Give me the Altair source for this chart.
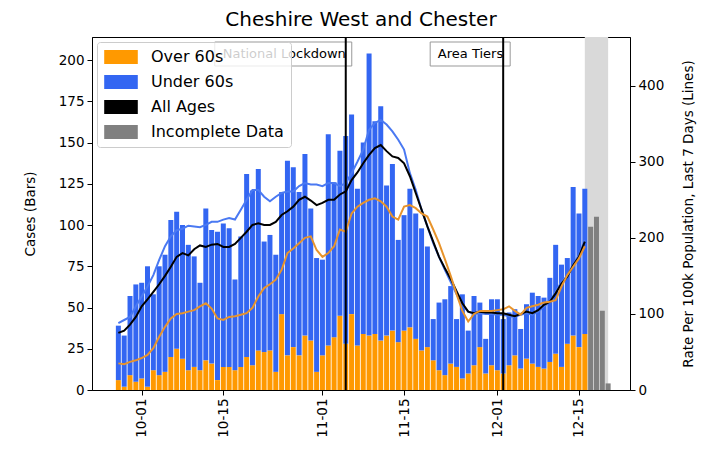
import altair as alt
import pandas as pd

# ---------------- data ----------------
day_dates = pd.date_range("2020-09-27", "2020-12-16", freq="D").strftime("%Y-%m-%d").tolist()

total_cases = [39, 33, 57, 64, 65, 75, 58, 75, 82, 103,
               108, 100, 88, 81, 65, 110, 97, 96, 101, 98,
               67, 93, 131, 121, 134, 90, 94, 82, 120, 139,
               135, 120, 143, 110, 80, 79, 155, 126, 145, 154,
               167, 122, 150, 204, 163, 172, 124, 137, 91, 106,
               122, 107, 98, 87, 43, 53, 55, 63, 43, 58,
               36, 57, 53, 31, 55, 55, 43, 47, 49, 37,
               52, 59, 57, 56, 68, 88, 76, 80, 123, 107,
               122]
over60_cases = [6, 2, 9, 5, 7, 2, 12, 9, 11, 20,
                25, 19, 12, 14, 12, 18, 16, 6, 14, 14,
                12, 14, 20, 15, 24, 23, 24, 11, 46, 21,
                26, 21, 33, 30, 11, 21, 27, 32, 45, 28,
                46, 27, 34, 33, 34, 30, 33, 36, 29, 36,
                38, 31, 24, 26, 18, 12, 9, 16, 14, 7,
                10, 15, 26, 10, 15, 12, 10, 15, 21, 13,
                19, 16, 14, 13, 17, 22, 14, 28, 33, 26,
                34]
incomplete_dates = ["2020-12-17", "2020-12-18", "2020-12-19", "2020-12-20"]
incomplete_cases = [99, 105, 48, 4]

rate_all = [75, 78, 86, 96, 110, 119, 129, 139, 150, 162,
            175, 180, 177, 185, 190, 188, 191, 192, 188, 188,
            192, 200, 208, 217, 219, 217, 217, 221, 230, 235,
            241, 250, 254, 249, 243, 246, 250, 250, 257, 261,
            276, 286, 298, 309, 318, 322, 314, 307, 305, 298,
            281, 259, 237, 215, 195, 175, 160, 146, 130, 114,
            103, 101, 103, 102, 102, 101, 101, 99, 97, 100,
            103, 101, 105, 112, 116, 127, 140, 149, 164, 175,
            195]
rate_under60 = [88, 92, 96, 110, 123, 136, 151, 171, 189, 202,
                210, 212, 216, 215, 214, 217, 221, 221, 224, 226,
                224, 237, 250, 263, 263, 254, 248, 254, 259, 261,
                261, 268, 272, 270, 270, 268, 272, 272, 268, 272,
                285, 300, 316, 342, 351, 355, 349, 340, 329, 316,
                285, 263, 237, 215, 193, 175, 158, 142, 126, 112,
                103, 100, 101, 100, 100, 99, 99, 97, 96, 99,
                101, 99, 103, 110, 116, 129, 142, 150, 165, 177,
                197]
rate_over60 = [35, 34, 37, 39, 42, 46, 55, 70, 83, 94,
               100, 101, 103, 105, 110, 114, 107, 94, 92, 96,
               97, 99, 101, 108, 123, 134, 139, 145, 158, 180,
               186, 193, 200, 202, 184, 175, 180, 189, 211, 208,
               232, 241, 246, 250, 252, 248, 241, 228, 224, 241,
               243, 239, 232, 228, 211, 193, 172, 150, 126, 104,
               90, 100, 104, 104, 104, 105, 106, 110, 104, 99,
               108, 110, 112, 115, 116, 118, 136, 151, 162, 173,
               189]

event_dates = ["2020-11-05", "2020-12-02"]
event_labels = ["National Lockdown", "Area Tiers"]
band_start = ["2020-12-16"]
band_end = ["2020-12-20"]

x_ticks = [(10, 1), (10, 15), (11, 1), (11, 15), (12, 1), (12, 15)]
left_ticks = [0, 25, 50, 75, 100, 125, 150, 175, 200]
right_ticks = [0, 100, 200, 300, 400]

legend_names = ["Over 60s", "Under 60s", "All Ages", "Incomplete Data"]
legend_colors = ["#FF9900", "#3366F2", "#000000", "#808080"]
line_names = ["Under 60s", "All Ages", "Over 60s"]
line_colors = ["#4A79F2", "#000000", "#E8942C"]

# ---------------- tables ----------------
bar_rows = []
for d, t, o in zip(day_dates, total_cases, over60_cases):
    bar_rows.append({"date": d, "group": "Over 60s", "lo": 0, "hi": o})
    bar_rows.append({"date": d, "group": "Under 60s", "lo": o, "hi": t})
for d, c in zip(incomplete_dates, incomplete_cases):
    bar_rows.append({"date": d, "group": "Incomplete Data", "lo": 0, "hi": c})
bars_df = pd.DataFrame(bar_rows)

line_rows = []
for name, series in zip(line_names, [rate_under60, rate_all, rate_over60]):
    for d, v in zip(day_dates, series):
        line_rows.append({"date": d, "series": name, "rate": v})
lines_df = pd.DataFrame(line_rows)

events_df = pd.DataFrame({"date": event_dates, "label": event_labels})
band_df = pd.DataFrame({"start": band_start, "end": band_end})

W, H = 538, 353
FONT = "DejaVu Sans"

x_scale = alt.Scale(type="utc", padding=0, domain=[
    alt.DateTime(year=2020, month=9, date=22, hours=11, minutes=30, utc=True),
    alt.DateTime(year=2020, month=12, date=23, hours=18, utc=True)])
x_axis = alt.Axis(values=[alt.DateTime(year=2020, month=m, date=d, utc=True) for m, d in x_ticks],
                  format="%m-%d", labelAngle=270, grid=False, title=None)


def xenc(field="date"):
    return alt.X(f"{field}:T", scale=x_scale, axis=x_axis, title=None)


band = alt.Chart(band_df).mark_rect(color="#D9D9D9", opacity=1).encode(
    x=xenc("start"), x2="end:T", y=alt.value(0), y2=alt.value(H))

bars = alt.Chart(bars_df).mark_bar(size=5).encode(
    x=xenc(),
    y=alt.Y("lo:Q", scale=alt.Scale(domain=[0, 214], nice=False),
            axis=alt.Axis(orient="left", values=left_ticks, title="Cases (Bars)", grid=False, titlePadding=21)),
    y2="hi:Q",
    color=alt.Color("group:N", scale=alt.Scale(domain=legend_names, range=legend_colors),
                    legend=alt.Legend(title=None, orient="none", legendX=5, legendY=5,
                                      symbolType="M-2.4,-1H2.4V1H-2.4Z", symbolSize=196,
                                      symbolOffset=9, labelOffset=22, labelFontSize=16,
                                      labelFont=FONT, labelColor="black", padding=7, rowPadding=9,
                                      fillColor="rgba(255,255,255,0.8)", strokeColor="#CCCCCC",
                                      cornerRadius=3, symbolStrokeWidth=0, symbolOpacity=1)),
)

lines = alt.Chart(lines_df).mark_line(strokeWidth=2).encode(
    x=xenc(),
    y=alt.Y("rate:Q", scale=alt.Scale(domain=[0, 464], nice=False),
            axis=alt.Axis(orient="right", values=right_ticks,
                          title="Rate Per 100k Population, Last 7 Days (Lines)", grid=False,
                          titlePadding=18, titleAngle=270, titleBaseline="top")),
    color=alt.Color("series:N", scale=alt.Scale(domain=line_names, range=line_colors), legend=None),
)

box1 = alt.Chart(events_df.iloc[[0]]).mark_rect(fill="white", stroke="#999999", strokeWidth=1,
                                                xOffset=-131, x2Offset=6).encode(
    x=xenc(), x2="date:T", y=alt.value(5), y2=alt.value(29))
box2 = alt.Chart(events_df.iloc[[1]]).mark_rect(fill="white", stroke="#999999", strokeWidth=1,
                                                xOffset=-73, x2Offset=7).encode(
    x=xenc(), x2="date:T", y=alt.value(5), y2=alt.value(29))
texts = alt.Chart(events_df).mark_text(align="right", baseline="middle", fontSize=13, font=FONT,
                                       color="black", dx=0).encode(
    x=xenc(), y=alt.value(17), text="label:N")
rules = alt.Chart(events_df).mark_rule(color="black", strokeWidth=2).encode(
    x=xenc(), y=alt.value(0), y2=alt.value(H))

chart = alt.layer(band, bars, lines, box1, box2, texts, rules).resolve_scale(
    y="independent", color="independent"
).properties(
    width=W, height=H,
    autosize=alt.AutoSizeParams(type="none"),
    padding={"left": 84, "top": 29, "right": 76, "bottom": 55},
    title=alt.TitleParams("Cheshire West and Chester", fontSize=20, font=FONT, fontWeight="normal",
                          anchor="middle", frame="group", offset=6, color="black"),
).configure_view(stroke="black", strokeWidth=1).configure_axis(
    labelFont=FONT, titleFont=FONT, labelFontSize=13.5, titleFontSize=13.5, labelColor="black",
    titleColor="black", titleFontWeight="normal", domainColor="black", tickColor="black",
    tickSize=5, labelPadding=3
)

chart.save("out.html", embed_options={"renderer": "svg", "actions": False})
